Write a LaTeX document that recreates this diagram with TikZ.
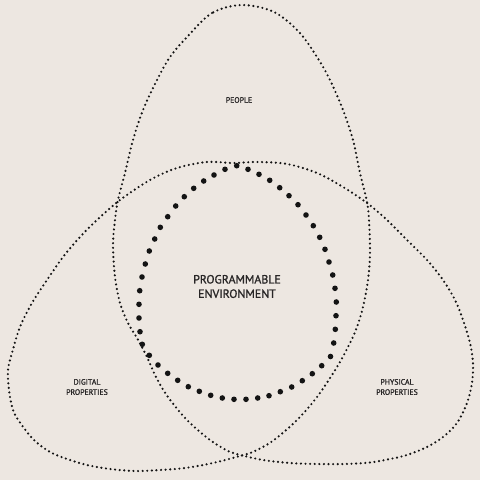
\documentclass[tikz,border=0pt]{standalone}
\usepackage{fontspec}
\setmainfont{PT Sans}[FakeBold=1.0]
\newfontfamily\labelfont{PT Sans}[FakeBold=1.2]
\definecolor{bgc}{RGB}{237,231,225}
\definecolor{ink}{RGB}{20,20,20}
\definecolor{txt}{RGB}{40,38,38}
\begin{document}
\begin{tikzpicture}[x=1pt,y=-1pt,
  outerline/.style={draw=ink, line width=2.4pt, line cap=round, dash pattern=on 0pt off 4.6pt},
  bigdot/.style={fill=ink},
  smalllbl/.style={text=txt, align=center, inner sep=0pt, font=\labelfont\fontsize{7.8}{10.2}\selectfont},
  mainlbl/.style={text=txt, align=center, inner sep=0pt, font=\labelfont\fontsize{11.9}{14.4}\selectfont}]
\fill[bgc] (0,0) rectangle (480,480);
\useasboundingbox (0,0) rectangle (480,480);
% trefoil outline
\draw[outerline] plot[smooth cycle, tension=0.55] coordinates {
 (242,5) (212,13) (187,37) (170,57) (157,80) (143,110) (133,140) (125,173) (118,200)
 (115,220) (113,245) (115,277) (120,303) (128,323) (137,338) (147,357) (156,377)
 (168,397) (187,420) (210,440) (230,452) (240,455) (263,460) (290,463) (317,464)
 (345,464) (370,462.5) (390,459) (407,455) (427,447) (443,437) (457,423) (467,403)
 (472,383) (473,363) (470,343) (463,320) (455,300) (443,280) (427,260) (407,240)
 (387,220) (367,203) (343,187) (317,173) (287,164) (257,162) (233,163) (207,162)
 (177,168) (150,180) (120,200) (97,220) (80,237) (63,257) (47,280) (32,303) (20,327)
 (12,353) (8,370) (9,390) (13,410) (21,424) (34,440) (50,452) (67,459) (87,465)
 (110,469) (135,471) (160,470) (185,468) (213,463) (240,456) (255,451) (274,440)
 (297,420) (317,397) (337,367) (350,343) (357,327) (363,307) (368,280) (370,253)
 (369,220) (367,202) (360,173) (353,140) (343,110) (330,80) (317,57) (299,32) (274,12)
};
% inner ring of dots
\foreach \p in {
 (236.7,165.7),(248,169.3),(259,174.3),(269.7,180.3),(279.7,187.7),(289,195.7),
 (298,204.7),(306,215),(313.3,225.7),(319.7,237.3),(325,249.3),(329,262),(332.7,275),
 (335,288.3),(336.3,302),(336,315.7),(335.3,329.3),(333.7,343),(330.5,356.5),
 (321.7,365.7),(312.3,373.7),(302.3,380.7),(291.7,387),(280.3,391.7),(269,395.7),
 (257.7,398),(246,399.3),(234,399.3),(222.3,398),(210.7,395.3),(199.3,391.3),
 (188.3,386.7),(177.7,380.3),(167.7,373.3),(158,365),(149.3,355.3),(142.3,344.3),
 (140,331.7),(139,318),(139,304.3),(139.7,290.7),(142,277),(145.3,264),(149.3,251),
 (154.7,239),(160.3,227.3),(167.7,216.7),(175.7,206),(184.3,196.7),(193.7,188.3),
 (203.7,181),(214,175),(225,169.3)}
 \fill[bigdot] \p circle (2.8);
% labels
\node[smalllbl] (people) at (239,100) {PEOPLE};
\node[smalllbl] (digital) at (87,387) {DIGITAL\\PROPERTIES};
\node[smalllbl] (physical) at (397,387) {PHYSICAL\\PROPERTIES};
\node[mainlbl] (prog) at (237,286.5) {PROGRAMMABLE\\ENVIRONMENT};
\end{tikzpicture}
\end{document}
